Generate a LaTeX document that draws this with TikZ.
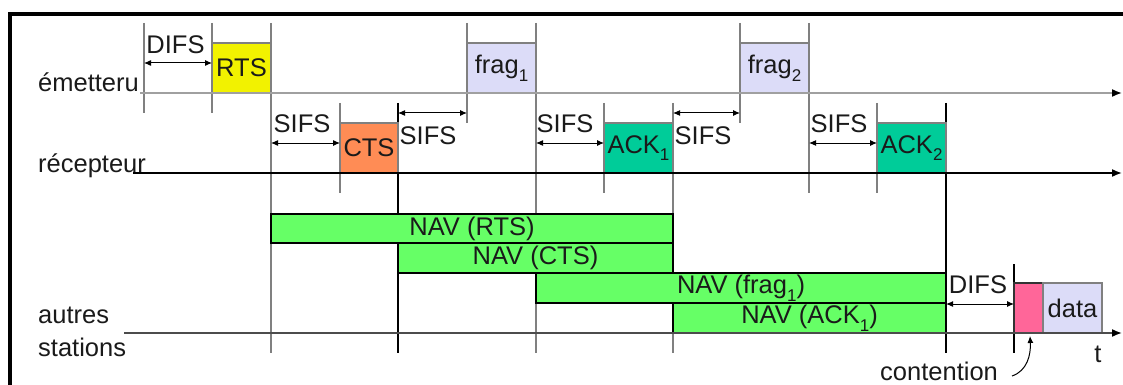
\documentclass[tikz,border=0pt]{standalone}
\usepackage{fontspec}
\setmainfont{Liberation Sans}
\usetikzlibrary{arrows.meta}
\definecolor{rtsc}{HTML}{F2F200}
\definecolor{ctsc}{HTML}{FF8C55}
\definecolor{ackc}{HTML}{00CC99}
\definecolor{fragc}{HTML}{DCDCF8}
\definecolor{navc}{HTML}{66FF66}
\definecolor{contc}{HTML}{FF6699}
\definecolor{linegray}{HTML}{808080}
\definecolor{axisgray}{HTML}{A0A0A0}
\definecolor{txt}{HTML}{1A1A1A}
\newcommand{\mysub}[1]{\raisebox{-0.3em}{\fontsize{17}{17}\selectfont #1}}
\begin{document}
\begin{tikzpicture}[x=1pt,y=-1pt,
  lbl/.style={font=\fontsize{25.5}{30}\selectfont, text=txt, inner sep=0pt},
  pkt/.style={draw=linegray, line width=1.5pt, inner sep=0pt, font=\fontsize{25.5}{30}\selectfont, text=txt},
  nav/.style={draw=black, line width=1.5pt, fill=navc, inner sep=0pt, font=\fontsize{25.5}{30}\selectfont, text=txt},
  tick/.style={draw=linegray, line width=1.5pt},
  tickdark/.style={draw=black, line width=1.5pt},
  gap/.style={draw=black, line width=1pt, {Latex[length=7pt,width=6pt]}-{Latex[length=7pt,width=6pt]}},
  axis/.style={line width=1.6pt, -{Latex[length=10pt,width=8pt,color=black]}}]
\useasboundingbox (0,0) rectangle (1123,385);
\fill[white] (0,0) rectangle (1123,385);
\begin{scope}
\clip (0,0) rectangle (1123,385);
\draw[line width=4pt, black] (10,14) rectangle (1140,400);

% vertical ticks
\draw[tick] (144,23) -- (144,113);
\draw[tick] (212,23) -- (212,113);
\draw[tick] (271,23) -- (271,353);
\draw[tick] (340,103) -- (340,193);
\draw[tickdark] (398,103) -- (398,353);
\draw[tick] (467,23) -- (467,123);
\draw[tick] (536,23) -- (536,353);
\draw[tick] (604,103) -- (604,193);
\draw[tick] (673,103) -- (673,353);
\draw[tick] (740,23) -- (740,123);
\draw[tick] (809,23) -- (809,193);
\draw[tick] (877,103) -- (877,193);
\draw[tickdark] (946,103) -- (946,353);
\draw[tickdark] (1014,264) -- (1014,353);

% packets
\node[pkt, fill=rtsc, minimum width=59pt, minimum height=50pt] (rts) at (241.5,68) {RTS};
\node[pkt, fill=ctsc, minimum width=58pt, minimum height=50pt] (cts) at (369,148) {CTS};
\node[pkt, fill=fragc, minimum width=69pt, minimum height=50pt] (frag1) at (501.5,68) {frag\mysub{1}};
\node[pkt, fill=ackc, minimum width=69pt, minimum height=50pt] (ack1) at (638.5,148) {ACK\mysub{1}};
\node[pkt, fill=fragc, minimum width=69pt, minimum height=50pt] (frag2) at (774.5,68) {frag\mysub{2}};
\node[pkt, fill=ackc, minimum width=69pt, minimum height=50pt] (ack2) at (911.5,148) {ACK\mysub{2}};
\node[pkt, draw=black!80, fill=contc, minimum width=29pt, minimum height=50pt] (cont) at (1028.5,308) {};
\node[pkt, fill=fragc, minimum width=59pt, minimum height=50pt] (data) at (1072.5,308) {data};

% NAV bars
\node[nav, minimum width=402pt, minimum height=29pt] (navrts) at (472,228.5) {NAV (RTS)};
\node[nav, minimum width=275pt, minimum height=30pt] (navcts) at (535.5,258) {NAV (CTS)};
\node[nav, minimum width=410pt, minimum height=30pt] (navfrag) at (741,288) {NAV (frag\mysub{1})};
\node[nav, minimum width=273pt, minimum height=30pt] (navack) at (809.5,318) {NAV (ACK\mysub{1})};

% axes
\node[lbl, anchor=base west] (em) at (38,92) {émetteru};
\node[lbl, anchor=base west] (rec) at (38,172) {récepteur};
\node[lbl, anchor=base west] (aut) at (38,323) {autres};
\node[lbl, anchor=base west] (sta) at (38,356) {stations};
\coordinate (emS) at (140,93);  \coordinate (emE) at (1122,93);
\coordinate (recS) at (133,173); \coordinate (recE) at (1122,173);
\coordinate (autS) at (124,333); \coordinate (autE) at (1122,333);
\draw[axis, axisgray] (emS) -- (emE);
\draw[axis, black] (recS) -- (recE);
\draw[axis, black!70] (autS) -- (autE);
\node[lbl, anchor=base] (t) at (1098,362) {t};

% interframe gaps
\coordinate (d1a) at (144,63); \coordinate (d1b) at (212,63);
\draw[gap] (d1a) -- (d1b);
\node[lbl] (difs1) at (175.5,45) {DIFS};
\coordinate (s1a) at (271,143); \coordinate (s1b) at (340,143);
\draw[gap] (s1a) -- (s1b);
\node[lbl] (sifs1) at (302,124) {SIFS};
\coordinate (s2a) at (398,113); \coordinate (s2b) at (467,113);
\draw[gap] (s2a) -- (s2b);
\node[lbl] (sifs2) at (428,136) {SIFS};
\coordinate (s3a) at (536,143); \coordinate (s3b) at (604,143);
\draw[gap] (s3a) -- (s3b);
\node[lbl] (sifs3) at (565,124) {SIFS};
\coordinate (s4a) at (673,113); \coordinate (s4b) at (740,113);
\draw[gap] (s4a) -- (s4b);
\node[lbl] (sifs4) at (703,136) {SIFS};
\coordinate (s5a) at (809,143); \coordinate (s5b) at (877,143);
\draw[gap] (s5a) -- (s5b);
\node[lbl] (sifs5) at (839,124) {SIFS};
\coordinate (d2a) at (946,304); \coordinate (d2b) at (1014,304);
\draw[gap] (d2a) -- (d2b);
\node[lbl] (difs2) at (978,285) {DIFS};

% contention
\node[lbl, anchor=base west] (cnt) at (880,380) {contention};
\coordinate (ctail) at (1012,376);
\coordinate (ctip) at (1030,336);
\draw[line width=1pt, -{Latex[length=7pt,width=6pt]}] (ctail) .. controls (1027,371) and (1031,355) .. (ctip);
\end{scope}
\end{tikzpicture}
\end{document}
